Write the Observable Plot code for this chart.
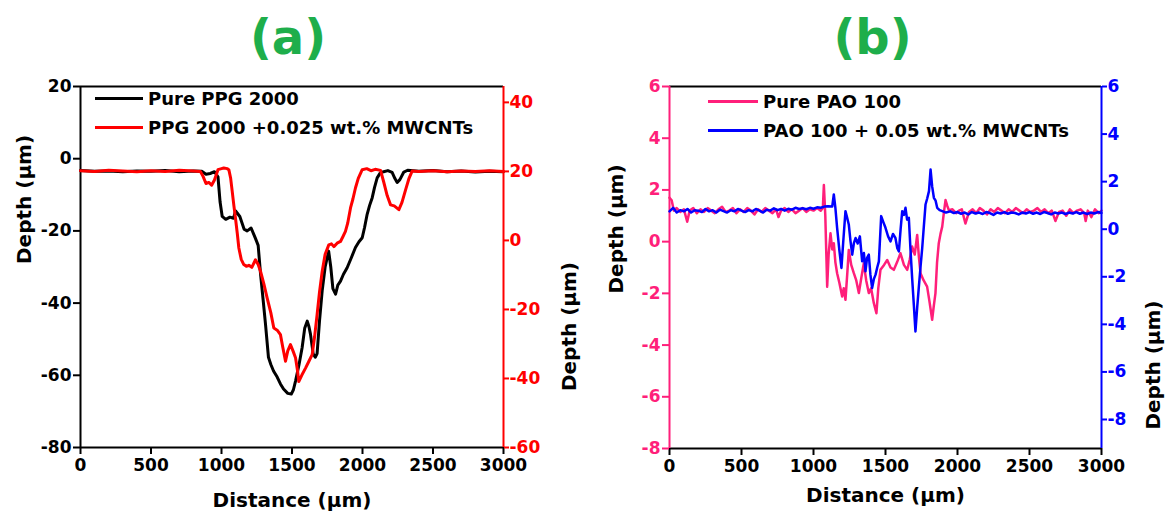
<!DOCTYPE html>
<html>
<head>
<meta charset="utf-8">
<script src="https://cdn.jsdelivr.net/npm/d3@7"></script>
<script src="https://cdn.jsdelivr.net/npm/@observablehq/plot@0.6"></script>
<style>
  html, body { margin: 0; padding: 0; background: #fff; }
  #wrap { position: relative; width: 1166px; height: 517px; overflow: hidden; background: #fff;
          font-family: "DejaVu Sans", Verdana, sans-serif; font-weight: bold; }
  .layer { position: absolute; top: 0; }
  .legend { position: absolute; font-size: 18px; color: #000; }
  .row { display: flex; align-items: center; height: 29px; white-space: nowrap; }
  .sw { height: 3px; margin-right: 5px; }
</style>
</head>
<body>
<div id="wrap"></div>
<script>
// ---------------- DATA ----------------
const xTicks = [0, 500, 1000, 1500, 2000, 2500, 3000];
const aLeftTicks = [-80, -60, -40, -20, 0, 20];
const aRightTicks = [-60, -40, -20, 0, 20, 40];
const bLeftTicks = [-8, -6, -4, -2, 0, 2, 4, 6];
const bRightTicks = [-8, -6, -4, -2, 0, 2, 4, 6];

const seriesNames = ["Pure PPG 2000", "PPG 2000 +0.025 wt.% MWCNTs", "Pure PAO 100", "PAO 100 + 0.05 wt.% MWCNTs"];

// (a) Pure PPG 2000 — left axis (distance µm, depth µm)
const ppgPure = [[0,-3.3],[100,-3.5],[200,-3.4],[300,-3.6],[400,-3.4],[500,-3.5],[600,-3.3],[700,-3.6],[800,-3.4],[860,-3.5],[890,-4.3],[920,-4.1],[950,-3.6],[975,-5],[990,-12],[1005,-16],[1030,-16.8],[1060,-16.2],[1085,-16.5],[1100,-14.5],[1130,-16],[1160,-19.5],[1182,-20],[1210,-19.2],[1240,-22],[1260,-24],[1277,-32],[1295,-39],[1312,-45.8],[1333,-55],[1350,-57],[1369,-58.8],[1395,-60.5],[1418,-62.4],[1440,-63.8],[1470,-65],[1495,-65.2],[1510,-64],[1525,-61.6],[1550,-57],[1572,-52.3],[1590,-47],[1608,-45],[1620,-46.5],[1631,-48.6],[1650,-54],[1665,-55],[1678,-54],[1695,-45],[1714,-36.6],[1735,-30],[1760,-25.6],[1775,-30],[1790,-36],[1809,-37.5],[1825,-35],[1844,-33.9],[1865,-32],[1891,-30.2],[1920,-27.5],[1950,-24.6],[1975,-23],[1998,-21.9],[2015,-19],[2033,-15.4],[2050,-13],[2069,-10.8],[2085,-8],[2104,-5.3],[2125,-4],[2150,-3.6],[2180,-3.3],[2210,-3.8],[2230,-5.5],[2246,-6.6],[2265,-5.8],[2293,-3.7],[2320,-3.2],[2400,-3.5],[2500,-3.3],[2600,-3.6],[2700,-3.4],[2800,-3.7],[2900,-3.5],[3000,-3.6]];

// (a) PPG 2000 + 0.025 wt.% MWCNTs — right axis
const ppgCnt = [[0,20.2],[100,20],[200,20.3],[300,20.1],[400,19.9],[500,20.2],[600,20],[700,20.3],[800,20.1],[850,20],[870,18.5],[890,16.5],[910,16.8],[930,16],[950,17.5],[975,20.5],[1000,20.8],[1016,21],[1040,20.8],[1052,20.5],[1065,18],[1076,14.2],[1088,10],[1099,6.5],[1112,2],[1123,-2.2],[1140,-5.5],[1158,-7],[1176,-7.5],[1194,-7.2],[1215,-7.8],[1241,-5.6],[1260,-7],[1277,-9],[1300,-12.5],[1324,-16.7],[1350,-21],[1371,-25.4],[1395,-26],[1418,-27.3],[1435,-31],[1454,-35],[1470,-32],[1489,-30.2],[1507,-32],[1525,-34],[1540,-38],[1548,-40.9],[1570,-39],[1596,-37],[1620,-35],[1643,-33.1],[1660,-28],[1678,-21.5],[1695,-15],[1714,-9],[1735,-4],[1761,-1.3],[1780,-1],[1797,-1.8],[1820,-0.8],[1844,-0.3],[1860,1],[1879,2.6],[1895,5],[1915,9.4],[1932,12],[1950,15.2],[1970,18],[1998,20.5],[2030,20.8],[2060,20.2],[2090,20.6],[2128,20.3],[2150,17],[2175,13],[2199,10.3],[2225,10],[2258,8.9],[2280,11],[2305,14.6],[2330,18],[2352,20.1],[2400,20],[2500,20.2],[2600,19.9],[2700,20.1],[2800,20],[2900,20.2],[3000,20]];

// (b) Pure PAO 100 — left axis
const paoPure = [[0,1.7],[15,1.6],[30,1.2],[50,1.3],[75,1.15],[100,1.25],[123,0.77],[140,1.2],[165,1.3],[190,1.1],[215,1.25],[240,1.15],[265,1.3],[290,1.2],[315,1.1],[340,1.25],[365,1.35],[390,1.15],[415,1.2],[440,1.3],[465,1.1],[490,1.25],[515,1.15],[540,1.3],[565,1.2],[590,1.05],[615,1.25],[640,1.15],[665,1.3],[690,1.2],[715,1.1],[740,1.25],[757,0.95],[775,1.2],[800,1.3],[825,1.15],[850,1.25],[875,1.1],[900,1.2],[925,1.3],[950,1.15],[975,1.25],[1000,1.2],[1025,1.3],[1050,1.2],[1065,1.3],[1072,2.19],[1082,1.0],[1095,-1.74],[1105,-0.5],[1118,0.32],[1130,-0.3],[1141,-0.06],[1152,-0.8],[1164,-1.22],[1180,-1.6],[1199,-2.12],[1210,-1.8],[1222,-2.25],[1235,-1.2],[1245,-0.32],[1262,-0.9],[1280,-1.22],[1297,-1.5],[1315,-1.99],[1332,-1.4],[1349,-0.84],[1366,-1.5],[1384,-1.99],[1400,-1.8],[1419,-2.38],[1437,-2.77],[1450,-1.8],[1465,-1.09],[1490,-0.9],[1512,-0.71],[1535,-1.0],[1558,-1.09],[1580,-0.8],[1604,-0.45],[1628,-0.9],[1651,-1.09],[1668,-0.7],[1685,-0.19],[1703,-0.5],[1720,0.26],[1732,-0.6],[1743,-1.22],[1765,-1.5],[1789,-1.74],[1805,-2.3],[1824,-3.02],[1835,-2.5],[1847,-1.99],[1858,-0.8],[1870,-0.06],[1882,0.3],[1894,0.58],[1905,1.1],[1917,1.61],[1928,1.4],[1940,1.22],[1965,1.25],[1990,1.1],[2010,1.2],[2030,1.25],[2055,0.7],[2080,1.15],[2105,1.25],[2130,1.1],[2155,1.3],[2180,1.2],[2205,1.05],[2230,1.25],[2255,1.15],[2280,1.3],[2305,1.2],[2330,1.1],[2355,1.25],[2380,1.15],[2405,1.3],[2430,1.2],[2455,1.1],[2480,1.25],[2505,1.15],[2530,1.2],[2555,1.3],[2580,1.15],[2605,1.25],[2630,1.1],[2655,1.2],[2680,0.8],[2705,1.15],[2730,1.2],[2755,1.0],[2780,1.25],[2805,1.1],[2830,1.2],[2855,1.25],[2880,1.1],[2890,0.8],[2905,1.2],[2930,0.95],[2955,1.25],[2980,1.1],[3000,1.2]];

// (b) PAO 100 + 0.05 wt.% MWCNTs — right axis
const paoCnt = [[0,0.75],[25,0.9],[50,0.7],[75,0.8],[100,0.75],[125,0.85],[150,0.7],[175,0.8],[200,0.78],[225,0.72],[250,0.85],[275,0.75],[300,0.8],[325,0.7],[350,0.82],[375,0.76],[400,0.7],[425,0.8],[450,0.75],[475,0.85],[500,0.78],[525,0.72],[550,0.8],[575,0.75],[600,0.85],[625,0.78],[650,0.7],[675,0.82],[700,0.78],[725,0.88],[750,0.8],[775,0.85],[800,0.78],[825,0.86],[850,0.82],[875,0.9],[900,0.85],[925,0.88],[950,0.84],[975,0.9],[1000,0.86],[1025,0.92],[1050,0.9],[1075,0.95],[1100,0.97],[1130,0.95],[1141,1.46],[1152,0.9],[1164,0.06],[1180,-0.9],[1194,-1.63],[1208,-0.4],[1222,0.76],[1233,0.5],[1245,0.2],[1257,-0.5],[1269,-1.07],[1280,-0.6],[1292,-0.37],[1307,-0.6],[1322,-0.3],[1338,-1.35],[1350,-1.0],[1361,-1.77],[1372,-1.2],[1384,-1.07],[1395,-1.9],[1407,-2.47],[1419,-2.1],[1431,-1.91],[1443,-1.6],[1454,-1.35],[1462,-0.4],[1470,0.55],[1485,0.3],[1500,0.06],[1518,-0.3],[1535,-0.51],[1552,-0.2],[1569,-0.37],[1582,-0.8],[1593,-0.93],[1605,0.0],[1616,0.76],[1628,0.6],[1639,0.9],[1650,0.4],[1662,0.48],[1673,-0.8],[1685,-2.05],[1697,-3.2],[1708,-4.3],[1720,-3.3],[1731,-2.47],[1743,-1.6],[1755,-0.79],[1766,0.1],[1778,1.04],[1790,1.3],[1802,1.6],[1813,2.51],[1824,1.8],[1836,1.32],[1848,1.2],[1859,0.9],[1876,0.8],[1894,0.76],[1920,0.7],[1950,0.75],[1975,0.68],[2000,0.72],[2025,0.65],[2050,0.7],[2075,0.62],[2100,0.72],[2125,0.66],[2150,0.7],[2175,0.64],[2200,0.72],[2225,0.68],[2250,0.6],[2275,0.7],[2300,0.66],[2325,0.72],[2350,0.65],[2375,0.7],[2400,0.68],[2425,0.62],[2450,0.7],[2475,0.66],[2500,0.72],[2525,0.65],[2550,0.7],[2575,0.64],[2600,0.72],[2625,0.68],[2650,0.62],[2675,0.7],[2700,0.66],[2725,0.7],[2750,0.64],[2775,0.7],[2800,0.66],[2825,0.72],[2850,0.65],[2875,0.7],[2900,0.64],[2925,0.7],[2950,0.66],[2975,0.72],[3000,0.68]];

// ---------------- DRAWING ----------------
const wrap = document.getElementById("wrap");
const fmt = d => String(d);
const baseStyle = {background: "transparent", fontFamily: "DejaVu Sans, Verdana, sans-serif",
                   fontWeight: "bold", fontSize: "17px", color: "#000", overflow: "visible"};
const toRows = arr => arr.map(([d, v]) => ({d, v}));

function addLayer(svg, left) {
  const div = document.createElement("div");
  div.className = "layer";
  div.style.left = left + "px";
  div.appendChild(svg);
  wrap.appendChild(div);
}

function panel(cfg) {
  const dims = {width: 583, height: 517, marginTop: 86, marginBottom: cfg.mb,
                marginLeft: cfg.ml, marginRight: cfg.mr};
  // primary layer: x axis, left y axis, first series
  const p1 = Plot.plot({
    ...dims, style: baseStyle,
    x: {domain: [0, 3000]},
    y: {domain: cfg.yL},
    marks: [
      Plot.ruleY([cfg.yL[1]], {stroke: "#000", strokeWidth: 2}),
      Plot.ruleY([cfg.yL[0]], {stroke: "#000", strokeWidth: 2}),
      Plot.ruleX([0], {stroke: cfg.cL, strokeWidth: 2}),
      Plot.axisX({ticks: xTicks, tickFormat: fmt, tickSize: 7, tickPadding: 4, strokeWidth: 2,
                  fontSize: 17, fontWeight: "bold", label: null}),
      Plot.axisY({anchor: "left", ticks: cfg.tL, tickFormat: fmt, tickSize: 7, tickPadding: 2,
                  strokeWidth: 2, color: cfg.cL, fontSize: 17, fontWeight: "bold", label: null}),
      Plot.line(toRows(cfg.s1), {x: "d", y: "v", stroke: cfg.c1, strokeWidth: cfg.sw, curve: "linear"}),
      Plot.text(["Distance (μm)"], {frameAnchor: "bottom", lineAnchor: "middle", dy: cfg.xLabDy,
                                     fontSize: 20, fontWeight: "bold", fill: "#000"}),
      Plot.text(["Depth (μm)"], {frameAnchor: "left", lineAnchor: "middle", dx: -cfg.yLabL, dy: cfg.yLabLdy,
                                  rotate: -90, fontSize: 20, fontWeight: "bold", fill: "#000"}),
      Plot.text([cfg.title], {frameAnchor: "top", lineAnchor: "middle", dx: cfg.titleDx, dy: -48,
                              fontSize: 48, fontWeight: "bold", fill: "#1eae4b"})
    ]
  });
  addLayer(p1, cfg.left);
  // secondary layer: right y axis, second series
  const p2 = Plot.plot({
    ...dims, style: baseStyle,
    x: {domain: [0, 3000], axis: null},
    y: {domain: cfg.yR},
    marks: [
      Plot.ruleX([3000], {stroke: cfg.cR, strokeWidth: 2}),
      Plot.axisY({anchor: "right", ticks: cfg.tR, tickFormat: fmt, tickSize: 5, tickPadding: 1,
                  strokeWidth: 2, color: cfg.cR, fontSize: 17, fontWeight: "bold", label: null}),
      Plot.line(toRows(cfg.s2), {x: "d", y: "v", stroke: cfg.c2, strokeWidth: cfg.sw, curve: "linear"}),
      Plot.text(["Depth (μm)"], {frameAnchor: "right", lineAnchor: "middle", dx: cfg.yLabR, dy: cfg.yLabRdy,
                                  rotate: -90, fontSize: 20, fontWeight: "bold", fill: "#000"})
    ]
  });
  addLayer(p2, cfg.left);
}

panel({left: 0, ml: 80, mr: 80, mb: 70, yL: [-80, 20], yR: [-60, 44.6], tL: aLeftTicks, tR: aRightTicks,
       cL: "#000", cR: "#ff0000", c1: "#000", c2: "#ff0000", s1: ppgPure, s2: ppgCnt, sw: 3,
       xLabDy: 53, yLabL: 56, yLabLdy: -3, yLabR: 66, yLabRdy: -5, title: "(a)", titleDx: -4});
panel({left: 583, ml: 86, mr: 65, mb: 69, yL: [-8, 6], yR: [-9.22, 6], tL: bLeftTicks, tR: bRightTicks,
       cL: "#ff1f7a", cR: "#0000ff", c1: "#ff1f7a", c2: "#0000ff", s1: paoPure, s2: paoCnt, sw: 2.5,
       xLabDy: 47, yLabL: 53, yLabLdy: 26, yLabR: 52, yLabRdy: 33, title: "(b)", titleDx: -13});

// legends
function legend(left, top, items, swW) {
  const div = document.createElement("div");
  div.className = "legend";
  div.style.left = left + "px";
  div.style.top = top + "px";
  for (const [name, color] of items) {
    const row = document.createElement("div");
    row.className = "row";
    const sw = document.createElement("span");
    sw.className = "sw";
    sw.style.width = swW + "px";
    sw.style.background = color;
    const t = document.createElement("span");
    t.textContent = name;
    row.appendChild(sw); row.appendChild(t);
    div.appendChild(row);
  }
  wrap.appendChild(div);
}
legend(95, 84, [[seriesNames[0], "#000"], [seriesNames[1], "#ff0000"]], 48);
legend(708, 87, [[seriesNames[2], "#ff1f7a"], [seriesNames[3], "#0000ff"]], 50);
</script>
</body>
</html>
